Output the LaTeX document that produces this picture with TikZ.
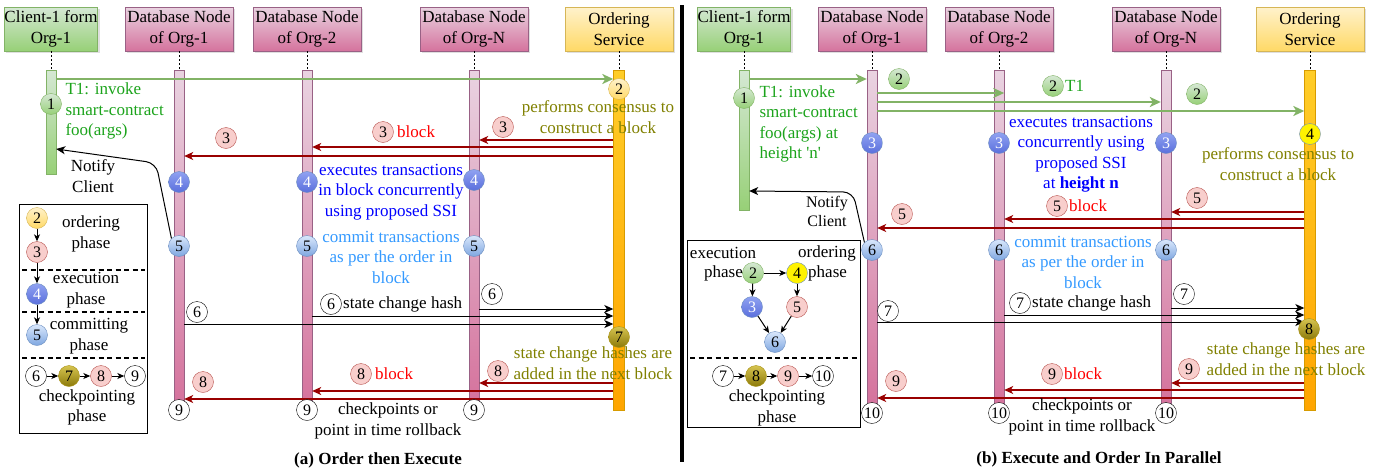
\documentclass[tikz,border=0pt]{standalone}
\usepackage{fontspec}
\setmainfont{Liberation Serif}
\usetikzlibrary{arrows,arrows.meta,shadows,positioning}
\definecolor{grnA}{HTML}{D5E8D4}
\definecolor{grnB}{HTML}{97D077}
\definecolor{grnD}{HTML}{82B366}
\definecolor{pnkA}{HTML}{E9D3E1}
\definecolor{pnkB}{HTML}{D5739D}
\definecolor{pnkD}{HTML}{996185}
\definecolor{ylwA}{HTML}{FFF2CC}
\definecolor{ylwB}{HTML}{FFD966}
\definecolor{ylwD}{HTML}{D6B656}
\definecolor{orgA}{HTML}{FFCD28}
\definecolor{orgB}{HTML}{FFA500}
\definecolor{orgD}{HTML}{D79B00}
\definecolor{redF}{HTML}{F8CECC}
\definecolor{redD}{HTML}{B85450}
\definecolor{bluA}{HTML}{DAE8FC}
\definecolor{bluB}{HTML}{7EA6E0}
\definecolor{bluD}{HTML}{6C8EBF}
\definecolor{dbA}{HTML}{90A2F2}
\definecolor{dbB}{HTML}{5A6FDC}
\definecolor{olvA}{HTML}{D6C450}
\definecolor{olvB}{HTML}{8C7A0A}
\definecolor{olvD}{HTML}{A89214}
\definecolor{arrR}{HTML}{990000}
\definecolor{txtG}{HTML}{1BA31B}
\definecolor{txtB}{HTML}{0000FF}
\definecolor{txtL}{HTML}{3399FF}
\definecolor{txtO}{HTML}{808000}

\begin{document}
\begin{tikzpicture}[x=1pt,y=-1pt,>=stealth',font=\fontsize{17}{20.5}\selectfont]
  \tikzstyle{hdr}=[draw,align=center,minimum height=44,inner sep=0,drop shadow={shadow xshift=2pt,shadow yshift=-2pt,opacity=0.25}]
  \tikzstyle{hgreen}=[hdr,top color=grnA,bottom color=grnB,draw=grnD,minimum width=93]
  \tikzstyle{hpink}=[hdr,top color=pnkA,bottom color=pnkB,draw=pnkD,minimum width=108]
  \tikzstyle{hyellow}=[hdr,top color=ylwA,bottom color=ylwB,draw=ylwD,minimum width=108]
  \tikzstyle{bar}=[draw,anchor=north,minimum width=10,inner sep=0]
  \tikzstyle{gbar}=[bar,top color=grnA,bottom color=grnB,draw=grnD]
  \tikzstyle{pbar}=[bar,top color=pnkA,bottom color=pnkB,draw=pnkD]
  \tikzstyle{obar}=[bar,top color=orgA,bottom color=orgB,draw=orgD,minimum width=11]
  \tikzstyle{life}=[dash pattern=on 2pt off 2pt]
  \tikzstyle{num}=[circle,draw,inner sep=0,minimum size=21,font=\fontsize{16}{16}\selectfont]
  \tikzstyle{ngreen}=[num,top color=grnA,bottom color=grnB,draw=grnD]
  \tikzstyle{nyellow}=[num,top color=ylwA,bottom color=ylwB,draw=ylwD]
  \tikzstyle{nbright}=[num,fill=yellow,draw=bluD]
  \tikzstyle{npink}=[num,fill=redF,draw=redD]
  \tikzstyle{ndark}=[num,top color=dbA,bottom color=dbB,draw=bluD,text=white]
  \tikzstyle{nlight}=[num,top color=bluA,bottom color=bluB,draw=bluD]
  \tikzstyle{nolive}=[num,top color=olvA,bottom color=olvB,draw=olvD]
  \tikzstyle{nwhite}=[num,fill=white,draw=black]
  \tikzstyle{garr}=[-{Stealth[length=11pt,width=10pt,inset=3pt]},draw=grnD,line width=2]
  \tikzstyle{rarr}=[-{Stealth[length=9pt,width=8pt,inset=2.5pt]},draw=arrR,line width=1.2]
  \tikzstyle{karr}=[-{Stealth[length=9pt,width=8pt,inset=2.5pt]},line width=1]
  \tikzstyle{larr}=[-{Stealth[length=7pt,width=6pt,inset=2pt]},line width=1]
  \tikzstyle{sep}=[dash pattern=on 5pt off 3.5pt,line width=1.6]

  \useasboundingbox (0,0) rectangle (1383,471);

  \node[hgreen]  (aH0) at (51,29)  {Client-1 form\\Org-1};
  \node[hpink]   (aH1) at (179,29) {Database Node\\of Org-1};
  \node[hpink]   (aH2) at (307,29) {Database Node\\of Org-2};
  \node[hpink]   (aH3) at (474,29) {Database Node\\of Org-N};
  \node[hyellow] (aH4) at (619,29) {Ordering\\Service};

  \node[gbar, minimum height=104] (aB0) at (51,70)  {};
  \node[pbar, minimum height=332] (aB1) at (179,70) {};
  \node[pbar, minimum height=332] (aB2) at (307,70) {};
  \node[pbar, minimum height=332] (aB3) at (474,70) {};
  \node[obar, minimum height=340] (aB4) at (619,70) {};
  \draw[life] (aH0) -- (aB0);
  \draw[life] (aH1) -- (aB1);
  \draw[life] (aH2) -- (aB2);
  \draw[life] (aH3) -- (aB3);
  \draw[life] (aH4) -- (aB4);

  \draw[garr] (aB0.east |- 0,79) -- (aB4.west |- 0,79);
  \draw[rarr] (aB4.west |- 0,140) -- (aB3.east |- 0,140);
  \draw[rarr] (aB4.west |- 0,147) -- (aB2.east |- 0,147);
  \draw[rarr] (aB4.west |- 0,156) -- (aB1.east |- 0,156);
  \draw[karr] (aB3.east |- 0,309) -- (aB4.west |- 0,309);
  \draw[karr] (aB2.east |- 0,316) -- (aB4.west |- 0,316);
  \draw[karr] (aB1.east |- 0,324) -- (aB4.west |- 0,324);
  \draw[rarr] (aB4.west |- 0,383) -- (aB3.east |- 0,383);
  \draw[rarr] (aB4.west |- 0,391) -- (aB2.east |- 0,391);
  \draw[rarr] (aB4.west |- 0,399) -- (aB1.east |- 0,399);

  \node[ngreen]  (a1)  at (51,104)  {1};
  \node[nyellow] (a2)  at (619,89)  {2};
  \node[npink]   (a3x) at (503,127) {3};
  \node[npink]   (a3y) at (383,132) {3};
  \node[npink]   (a3z) at (226,138) {3};
  \node[ndark]   (a4x) at (474,180) {4};
  \node[ndark]   (a4y) at (307,182) {4};
  \node[ndark]   (a4z) at (179,182) {4};
  \node[nlight]  (a5x) at (474,246) {5};
  \node[nlight]  (a5y) at (307,246) {5};
  \node[nlight]  (a5z) at (179,246) {5};
  \node[nwhite]  (a6x) at (492,294) {6};
  \node[nwhite]  (a6y) at (331,304) {6};
  \node[nwhite]  (a6z) at (197,312) {6};
  \node[nolive]  (a7)  at (619,337) {7};
  \node[npink]   (a8x) at (498,371) {8};
  \node[npink]   (a8y) at (361,374) {8};
  \node[npink]   (a8z) at (203,382) {8};
  \node[nwhite]  (a9x) at (474,410) {9};
  \node[nwhite]  (a9y) at (307,410) {9};
  \node[nwhite]  (a9z) at (179,410) {9};

  \draw[karr,rounded corners=10] (a5z.north west) -- (156,163) -- (aB0.east |- 0,149);

  \node[text=txtG, align=left, anchor=west] (aT1) at (62,111) {T1: invoke\\smart-contract\\foo(args)};
  \node[align=center] (aNote) at (93,176) {Notify\\Client};
  \node[text=txtO, align=center] (aCons) at (598,117) {performs consensus to\\construct a block};
  \node[text=red, right=0pt of a3y] (aBlk1) {block};
  \node[text=txtB, align=center] (aExe) at (391,192) {executes transactions\\in block concurrently\\using proposed SSI};
  \node[text=txtL, align=center] (aCom) at (391,257) {commit transactions\\as per the order in\\block};
  \node[right=-2pt of a6y] (aHash) {state change hash};
  \node[text=txtO, align=center] (aAdd) at (593,363) {state change hashes are\\added in the next block};
  \node[text=red, right=0pt of a8y] (aBlk2) {block};
  \node[align=center] (aChk) at (388,421) {checkpoints or\\point in time rollback};
  \node[font=\fontsize{17}{20}\selectfont\bfseries] (aCap) at (378,460) {(a) Order then Execute};

  \node[draw, minimum width=128, minimum height=229, inner sep=0] (aLeg) at (83,318.5) {};
  \node[nyellow] (aL2) at (37,218) {2};
  \node[npink]   (aL3) at (37,252) {3};
  \node[ndark]   (aL4) at (37,294) {4};
  \node[nlight]  (aL5) at (37,335) {5};
  \node[nwhite]  (aL6) at (36,376) {6};
  \node[nolive]  (aL7) at (69,376) {7};
  \node[npink]   (aL8) at (101,376) {8};
  \node[nwhite]  (aL9) at (135,376) {9};
  \draw[sep] (22,270) -- (145,270);
  \draw[sep] (22,312) -- (145,312);
  \draw[sep] (22,358) -- (145,358);
  \path[larr] (aL2) edge (aL3)
              (aL3) edge (aL4)
              (aL4) edge (aL5)
              (aL6) edge (aL7)
              (aL7) edge (aL8)
              (aL8) edge (aL9);
  \node[align=center] (aPh1) at (91,234) {ordering\\phase};
  \node[align=center] (aPh2) at (86,290) {execution\\phase};
  \node[align=center] (aPh3) at (89,336) {committing\\phase};
  \node[align=center] (aPh4) at (87,407.5) {checkpointing\\phase};

  \draw[line width=3.5] (682,5) -- (682,462);

  \node[hgreen]  (bH0) at (744,29)  {Client-1 form\\Org-1};
  \node[hpink]   (bH1) at (872,29)  {Database Node\\of Org-1};
  \node[hpink]   (bH2) at (999,29)  {Database Node\\of Org-2};
  \node[hpink]   (bH3) at (1166,29) {Database Node\\of Org-N};
  \node[hyellow] (bH4) at (1310,29) {Ordering\\Service};

  \node[gbar, minimum height=140] (bB0) at (744,70)  {};
  \node[pbar, minimum height=333] (bB1) at (872,70)  {};
  \node[pbar, minimum height=333] (bB2) at (999,70)  {};
  \node[pbar, minimum height=333] (bB3) at (1166,70) {};
  \node[obar, minimum height=340] (bB4) at (1310,70) {};
  \draw[life] (bH0) -- (bB0);
  \draw[life] (bH1) -- (bB1);
  \draw[life] (bH2) -- (bB2);
  \draw[life] (bH3) -- (bB3);
  \draw[life] (bH4) -- (bB4);

  \draw[garr] (bB0.east |- 0,79) -- (bB1.west |- 0,79);
  \draw[garr] (bB1.east |- 0,93) -- (bB2.east |- 0,93);
  \draw[garr] (bB1.east |- 0,102) -- (bB3.west |- 0,102);
  \draw[garr] (bB1.east |- 0,111) -- (bB4.west |- 0,111);
  \draw[rarr] (bB4.west |- 0,212) -- (bB3.east |- 0,212);
  \draw[rarr] (bB4.west |- 0,219) -- (bB2.east |- 0,219);
  \draw[rarr] (bB4.west |- 0,228) -- (bB1.east |- 0,228);
  \draw[karr] (bB3.east |- 0,308) -- (bB4.west |- 0,308);
  \draw[karr] (bB2.east |- 0,315) -- (bB4.west |- 0,315);
  \draw[karr] (bB1.east |- 0,322) -- (bB4.west |- 0,322);
  \draw[rarr] (bB4.west |- 0,383) -- (bB3.east |- 0,383);
  \draw[rarr] (bB4.west |- 0,390) -- (bB2.east |- 0,390);
  \draw[rarr] (bB4.west |- 0,398) -- (bB1.east |- 0,398);

  \node[ngreen]  (b1)   at (744,98)   {1};
  \node[ngreen]  (b2x)  at (1197,94)  {2};
  \node[ngreen]  (b2y)  at (1053,86)  {2};
  \node[ngreen]  (b2z)  at (899,79)   {2};
  \node[ndark]   (b3x)  at (1166,143) {3};
  \node[ndark]   (b3y)  at (999,143)  {3};
  \node[ndark]   (b3z)  at (872,143)  {3};
  \node[nbright] (b4)   at (1310,134) {4};
  \node[npink]   (b5x)  at (1197,198) {5};
  \node[npink]   (b5y)  at (1057,206) {5};
  \node[npink]   (b5z)  at (902,214)  {5};
  \node[nlight]  (b6x)  at (1166,250) {6};
  \node[nlight]  (b6y)  at (999,250)  {6};
  \node[nlight]  (b6z)  at (872,250)  {6};
  \node[nwhite]  (b7x)  at (1184,294) {7};
  \node[nwhite]  (b7y)  at (1020,303) {7};
  \node[nwhite]  (b7z)  at (888,311)  {7};
  \node[nolive]  (b8)   at (1309,329) {8};
  \node[npink]   (b9x)  at (1189,369) {9};
  \node[npink]   (b9y)  at (1052,374) {9};
  \node[npink]   (b9z)  at (896,381)  {9};
  \node[nwhite]  (b10x) at (1166,413) {10};
  \node[nwhite]  (b10y) at (999,413)  {10};
  \node[nwhite]  (b10z) at (872,413)  {10};

  \draw[karr,rounded corners=10] (b6z.north west) -- (853,192) -- (bB0.east |- 0,191);

  \node[text=txtG, align=left, anchor=west] (bT1) at (756,124) {T1: invoke\\smart-contract\\foo(args) at\\height \textquotesingle n\textquotesingle};
  \node[text=txtG, right=-2pt of b2y] (bT1b) {T1};
  \node[text=txtB, align=center] (bExe) at (1081,154) {executes transactions\\concurrently using\\proposed SSI\\at \textbf{height n}};
  \node[text=txtO, align=center] (bCons) at (1278,164) {performs consensus to\\construct a block};
  \node[text=red, right=-2pt of b5y] (bBlk1) {block};
  \node[align=center, font=\fontsize{16}{19}\selectfont] (bNote) at (827,211) {Notify\\Client};
  \node[text=txtL, align=center] (bCom) at (1083,262) {commit transactions\\as per the order in\\block};
  \node[right=-2pt of b7y] (bHash) {state change hash};
  \node[text=txtO, align=center] (bAdd) at (1286,359) {state change hashes are\\added in the next block};
  \node[text=red, right=-2pt of b9y] (bBlk2) {block};
  \node[align=center] (bChk) at (1082,417) {checkpoints or\\point in time rollback};
  \node[font=\fontsize{17}{20}\selectfont\bfseries] (bCap) at (1099,459) {(b) Execute and Order In Parallel};

  \node[draw, minimum width=173, minimum height=187, inner sep=0] (bLeg) at (773.5,333.5) {};
  \node[ngreen]  (bL2)  at (753,273) {2};
  \node[nbright] (bL4)  at (797,273) {4};
  \node[ndark]   (bL3)  at (752,307) {3};
  \node[npink]   (bL5)  at (797,307) {5};
  \node[nlight]  (bL6)  at (775,342) {6};
  \node[nwhite]  (bL7)  at (723,376) {7};
  \node[nolive]  (bL8)  at (756,376) {8};
  \node[npink]   (bL9)  at (788,376) {9};
  \node[nwhite]  (bL10) at (823,376) {10};
  \draw[sep] (690,358) -- (857,358);
  \path[larr] (bL2) edge (bL4)
              (bL2) edge (bL3)
              (bL4) edge (bL5)
              (bL3) edge (bL6)
              (bL5) edge (bL6)
              (bL7) edge (bL8)
              (bL8) edge (bL9)
              (bL9) edge (bL10);
  \node (bPh1) at (723,253) {execution};
  \node[anchor=east, inner sep=0] (bPh2) at (743,273) {phase};
  \node (bPh3) at (827,253) {ordering};
  \node[anchor=west, inner sep=0] (bPh4) at (808,273) {phase};
  \node[align=center] (bPh5) at (777,408) {checkpointing\\phase};
\end{tikzpicture}
\end{document}
